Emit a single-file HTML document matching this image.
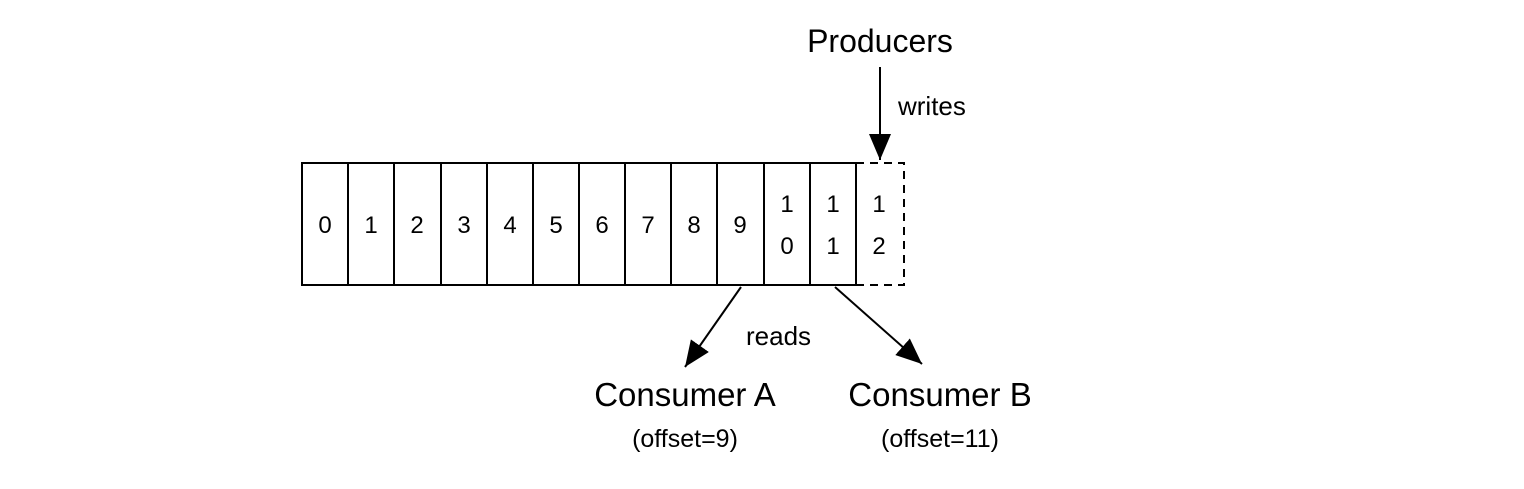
<!DOCTYPE html>
<html><head><style>body{margin:0;background:#fff}</style></head><body>
<svg width="1524" height="484" viewBox="0 0 1524 484" xmlns="http://www.w3.org/2000/svg" font-family="Liberation Sans, sans-serif" fill="#000">
<defs><marker id="a" markerWidth="10" markerHeight="10" refX="9" refY="5" orient="auto" markerUnits="userSpaceOnUse" viewBox="0 0 10 10"><path d="M0,0L10,5L0,10z"/></marker>
<marker id="b" markerWidth="26" markerHeight="22" refX="26" refY="11" orient="auto" markerUnits="userSpaceOnUse"><path d="M0,0L26,11L0,22z"/></marker></defs>
<g stroke="#000" stroke-width="2" fill="none">
<rect x="302" y="163" width="554" height="122"/>
<line x1="348" y1="163" x2="348" y2="285"/><line x1="394" y1="163" x2="394" y2="285"/><line x1="441" y1="163" x2="441" y2="285"/><line x1="487" y1="163" x2="487" y2="285"/><line x1="533" y1="163" x2="533" y2="285"/><line x1="579" y1="163" x2="579" y2="285"/><line x1="625" y1="163" x2="625" y2="285"/><line x1="671" y1="163" x2="671" y2="285"/><line x1="717" y1="163" x2="717" y2="285"/><line x1="764" y1="163" x2="764" y2="285"/><line x1="810" y1="163" x2="810" y2="285"/>
<path d="M856,163H904V285H856" stroke-dasharray="8,6"/>
<line x1="880" y1="67" x2="880" y2="160" marker-end="url(#b)"/>
<line x1="741" y1="287" x2="685" y2="367" marker-end="url(#b)"/>
<line x1="835" y1="287" x2="922" y2="364" marker-end="url(#b)"/>
</g>
<g font-size="24" text-anchor="middle">
<text x="325" y="233">0</text><text x="371" y="233">1</text><text x="417" y="233">2</text><text x="464" y="233">3</text><text x="510" y="233">4</text><text x="556" y="233">5</text><text x="602" y="233">6</text><text x="648" y="233">7</text><text x="694" y="233">8</text><text x="740" y="233">9</text>
<text x="787" y="212">1</text><text x="787" y="254">0</text><text x="833" y="212">1</text><text x="833" y="254">1</text><text x="879" y="212">1</text><text x="879" y="254">2</text>
<text x="880" y="52" font-size="32">Producers</text>
<text x="685" y="406" font-size="33">Consumer A</text>
<text x="940" y="406" font-size="33">Consumer B</text>
<text x="685" y="447" font-size="25">(offset=9)</text>
<text x="940" y="447" font-size="25">(offset=11)</text>
</g>
<text x="898" y="115" font-size="26">writes</text>
<text x="746" y="345" font-size="26">reads</text>
</svg>
</body></html>
